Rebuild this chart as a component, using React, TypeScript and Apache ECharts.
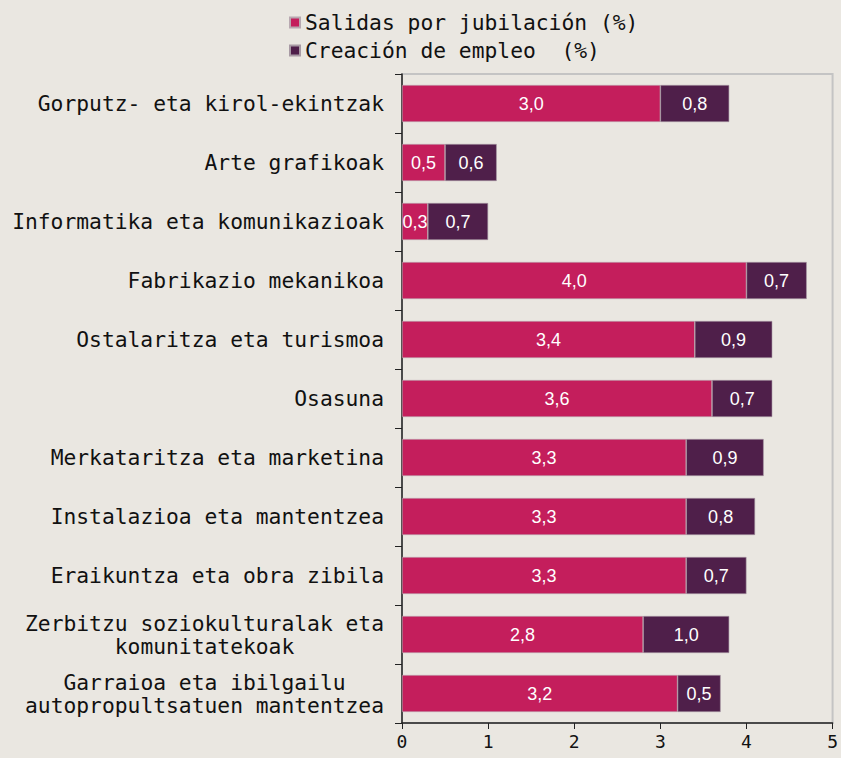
import React, { useEffect, useRef } from "react";
import * as echarts from "echarts";

const NB = "\u00a0";
const categories = [
  "Gorputz- eta kirol-ekintzak",
  "Arte grafikoak",
  "Informatika eta komunikazioak",
  "Fabrikazio mekanikoa",
  "Ostalaritza eta turismoa",
  "Osasuna",
  "Merkataritza eta marketina",
  "Instalazioa eta mantentzea",
  "Eraikuntza eta obra zibila",
  "Zerbitzu soziokulturalak eta\nkomunitatekoak" + NB.repeat(7),
  "Garraioa eta ibilgailu" + NB.repeat(3) + "\nautopropultsatuen mantentzea",
];
const salidas = [3.0, 0.5, 0.3, 4.0, 3.4, 3.6, 3.3, 3.3, 3.3, 2.8, 3.2];
const creacion = [0.8, 0.6, 0.7, 0.7, 0.9, 0.7, 0.9, 0.8, 0.7, 1.0, 0.5];
const seriesNames = ["Salidas por jubilación (%)", "Creación de empleo  (%)"];
const xTicks = [0, 1, 2, 3, 4, 5];

const MONO = "DejaVu Sans Mono";

export default function App() {
  const ref = useRef<HTMLDivElement>(null);
  useEffect(() => {
    const chart = echarts.init(ref.current!, undefined, { renderer: "svg" });
    const labelFmt = (p: any) => Number(p.value).toFixed(1).replace(".", ",");
    chart.setOption({
      animation: false,
      backgroundColor: "#EAE7E1",
      legend: {
        orient: "vertical",
        left: 284,
        top: 7,
        itemWidth: 10,
        itemHeight: 10,
        itemGap: 7,
        icon: "rect",
        data: seriesNames,
        textStyle: { fontFamily: MONO, fontSize: 21.3, color: "#111" },
      },
      grid: {
        left: 402,
        right: 5,
        top: 74,
        bottom: 35,
        show: true,
        borderColor: "#c4c4c4",
        borderWidth: 2,
        backgroundColor: "transparent",
      },
      xAxis: {
        type: "value",
        min: xTicks[0],
        max: xTicks[xTicks.length - 1],
        interval: 1,
        splitLine: { show: false },
        axisLine: { show: true, lineStyle: { color: "#222", width: 1.5 } },
        axisTick: { show: true, length: 6, lineStyle: { color: "#222" } },
        axisLabel: { fontFamily: MONO, fontSize: 18, color: "#111", margin: 9 },
      },
      yAxis: {
        type: "category",
        inverse: true,
        data: categories,
        axisLine: { show: true, lineStyle: { color: "#222", width: 1.5 } },
        axisTick: { show: true, length: 7, lineStyle: { color: "#222" } },
        axisLabel: {
          fontFamily: MONO,
          fontSize: 21.3,
          color: "#111",
          margin: 18,
          lineHeight: 23,
        },
      },
      series: [
        {
          name: seriesNames[0],
          type: "bar",
          stack: "a",
          data: salidas,
          barWidth: 37,
          itemStyle: { color: "#C41E5C", borderColor: "#b8a8b0", borderWidth: 0.6 },
          label: {
            show: true,
            position: "inside",
            color: "#fff",
            fontFamily: "Liberation Sans",
            fontSize: 18,
            formatter: labelFmt,
          },
        },
        {
          name: seriesNames[1],
          type: "bar",
          stack: "a",
          data: creacion,
          barWidth: 37,
          itemStyle: { color: "#4F1F4A", borderColor: "#a89aa4", borderWidth: 0.6 },
          label: {
            show: true,
            position: "inside",
            color: "#fff",
            fontFamily: "Liberation Sans",
            fontSize: 18,
            formatter: labelFmt,
          },
        },
      ],
    });
    return () => chart.dispose();
  }, []);
  return (
    <div
      ref={ref}
      style={{ position: "fixed", left: 0, top: 0, width: 841, height: 758 }}
    />
  );
}
